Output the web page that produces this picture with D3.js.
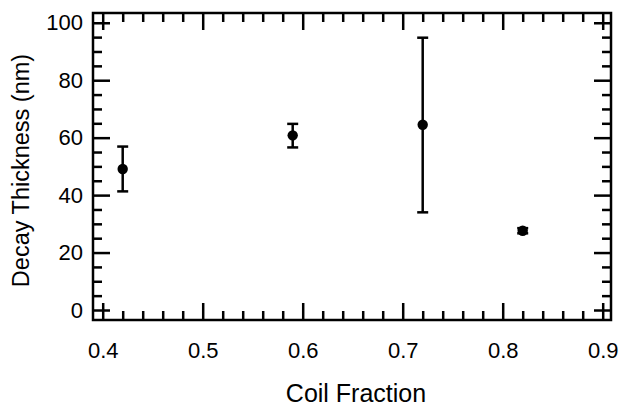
<!DOCTYPE html>
<html>
<head>
<meta charset="utf-8">
<script src="https://cdn.jsdelivr.net/npm/d3@7"></script>
<style>
  body { margin: 0; background: #fff; }
  text { font-family: Arial, "Liberation Sans", sans-serif; fill: #000; }
</style>
</head>
<body>
<div id="chart"></div>
<script>
// data
var coilFraction = [0.42, 0.59, 0.72, 0.82];
var thickness = [49.1, 60.8, 64.5, 27.6];
var errLow = [41.3, 56.6, 34.0, 26.7];
var errHigh = [56.9, 64.8, 94.8, 28.5];

var xMajor = [0.4, 0.5, 0.6, 0.7, 0.8, 0.9];
var yMajor = [0, 20, 40, 60, 80, 100];

var width = 623, height = 406;
var margin = {top: 13, right: 12, bottom: 86, left: 93};
var w = width - margin.left - margin.right,
    h = height - margin.top - margin.bottom;

var svg = d3.select("#chart")
  .append("svg")
  .attr("width", width)
  .attr("height", height)
  .append("g")
  .attr("transform", "translate(" + margin.left + "," + margin.top + ")");

var x = d3.scaleLinear().domain([0.3903, 0.9083]).range([0, w]);
var y = d3.scaleLinear().domain([-3.48, 103.4]).range([h, 0]);

var xMinor = d3.range(0.4, 0.9001, 0.02).filter(function(v) {
  return Math.abs(Math.round(v * 10) - v * 10) > 1e-6;
});
var yMinor = d3.range(0, 101, 5).filter(function(v) { return v % 20 != 0; });

function styleAxis(g) {
  g.select(".domain").remove();
  g.selectAll("line").attr("stroke", "#000").attr("stroke-width", 2.5);
  g.selectAll("text").style("font-size", "22px");
}

// bottom
svg.append("g")
  .attr("transform", "translate(0," + h + ")")
  .call(d3.axisBottom(x).tickValues(xMajor).tickSize(-17).tickPadding(22).tickFormat(d3.format(".1f")))
  .call(styleAxis);
svg.append("g")
  .attr("transform", "translate(0," + h + ")")
  .call(d3.axisBottom(x).tickValues(xMinor).tickSize(-9).tickFormat(""))
  .call(styleAxis);
// top
svg.append("g")
  .call(d3.axisTop(x).tickValues(xMajor).tickSize(-17).tickFormat(""))
  .call(styleAxis);
svg.append("g")
  .call(d3.axisTop(x).tickValues(xMinor).tickSize(-9).tickFormat(""))
  .call(styleAxis);
// left
svg.append("g")
  .call(d3.axisLeft(y).tickValues(yMajor).tickSize(-17).tickPadding(10))
  .call(styleAxis);
svg.append("g")
  .call(d3.axisLeft(y).tickValues(yMinor).tickSize(-9).tickFormat(""))
  .call(styleAxis);
// right
svg.append("g")
  .attr("transform", "translate(" + w + ",0)")
  .call(d3.axisRight(y).tickValues(yMajor).tickSize(-17).tickFormat(""))
  .call(styleAxis);
svg.append("g")
  .attr("transform", "translate(" + w + ",0)")
  .call(d3.axisRight(y).tickValues(yMinor).tickSize(-9).tickFormat(""))
  .call(styleAxis);

// frame
svg.append("rect")
  .attr("width", w)
  .attr("height", h)
  .style("fill", "none")
  .style("stroke", "#000")
  .style("stroke-width", 2.5);

var pts = coilFraction.map(function(c, i) {
  return {x: c, y: thickness[i], lo: errLow[i], hi: errHigh[i]};
});

// error bars
var eb = svg.selectAll(".err").data(pts).enter().append("g").attr("class", "err");
eb.append("line")
  .attr("x1", function(d) { return x(d.x); })
  .attr("x2", function(d) { return x(d.x); })
  .attr("y1", function(d) { return y(d.lo); })
  .attr("y2", function(d) { return y(d.hi); })
  .style("stroke", "#000").style("stroke-width", 2.5);
eb.append("line")
  .attr("x1", function(d) { return x(d.x) - 5.5; })
  .attr("x2", function(d) { return x(d.x) + 5.5; })
  .attr("y1", function(d) { return y(d.lo); })
  .attr("y2", function(d) { return y(d.lo); })
  .style("stroke", "#000").style("stroke-width", 2.5);
eb.append("line")
  .attr("x1", function(d) { return x(d.x) - 5.5; })
  .attr("x2", function(d) { return x(d.x) + 5.5; })
  .attr("y1", function(d) { return y(d.hi); })
  .attr("y2", function(d) { return y(d.hi); })
  .style("stroke", "#000").style("stroke-width", 2.5);

svg.selectAll("circle")
  .data(pts)
  .enter()
  .append("circle")
  .attr("cx", function(d) { return x(d.x); })
  .attr("cy", function(d) { return y(d.y); })
  .attr("r", 5.2)
  .style("fill", "#000");

// axis titles
svg.append("text")
  .attr("text-anchor", "middle")
  .attr("x", w / 2 + 4)
  .attr("y", h + 82)
  .style("font-size", "25px")
  .text("Coil Fraction");

svg.append("text")
  .attr("text-anchor", "middle")
  .attr("transform", "translate(-64," + (h / 2 + 4) + ") rotate(-90)")
  .style("font-size", "23.5px")
  .text("Decay Thickness (nm)");
</script>
</body>
</html>
